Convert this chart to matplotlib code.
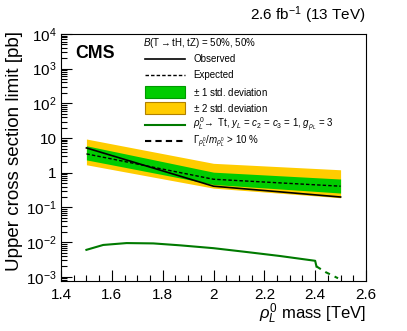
import numpy as np
import matplotlib
matplotlib.use("Agg")
import matplotlib.pyplot as plt
from matplotlib.lines import Line2D
from matplotlib.patches import Rectangle
from matplotlib.ticker import MultipleLocator, LogLocator, NullFormatter

plt.rcParams['font.family'] = ['Liberation Sans', 'DejaVu Sans']
plt.rcParams['mathtext.fontset'] = 'custom'
plt.rcParams['mathtext.rm'] = 'Liberation Sans'
plt.rcParams['mathtext.it'] = 'Liberation Sans:italic'
plt.rcParams['mathtext.bf'] = 'Liberation Sans:bold'

# limits at the three mass points (pb)
mass = [1.5, 2.0, 2.5]
observed = [5.2, 0.41, 0.20]
expected = [3.5, 0.65, 0.41]
sig1_lo = [2.35, 0.46, 0.26]
sig1_hi = [6.0, 1.04, 0.66]
sig2_lo = [1.7, 0.36, 0.19]
sig2_hi = [9.4, 1.87, 1.22]

# theory cross section
th_mass = [1.5, 1.566, 1.658, 1.763, 1.868, 2.0, 2.13, 2.26, 2.40, 2.405]
th_xs = [0.0060, 0.0083, 0.0094, 0.0092, 0.0081, 0.0067, 0.0052, 0.0040, 0.0029, 0.0020]
# region where width/mass > 10 %
wide_mass = [2.405, 2.44, 2.49]
wide_xs = [0.0020, 0.00138, 0.00091]

GREEN = '#00cc00'
YELLOW = '#ffcc00'
DKGREEN = '#007a00'

W, H = 407, 331
fig = plt.figure(figsize=(W / 100, H / 100), dpi=100)
ax = fig.add_axes([61 / W, (H - 281) / H, 305 / W, 247 / H])

ax.fill_between(mass, sig2_lo, sig2_hi, color=YELLOW, lw=0)
ax.fill_between(mass, sig1_lo, sig1_hi, color=GREEN, lw=0)
ax.plot(mass, expected, color='black', lw=1.0, dashes=(2.5, 1.5))
ax.plot(mass, observed, color='black', lw=1.2)
ax.plot(th_mass, th_xs, color=DKGREEN, lw=1.5)
ax.plot(wide_mass, wide_xs, color=DKGREEN, lw=1.5, dashes=(2.5, 2.5))

ax.set_yscale('log')
ax.set_xlim(1.4, 2.6)
ax.xaxis.set_minor_locator(MultipleLocator(0.05))
ax.set_xticks([1.4, 1.6, 1.8, 2.0, 2.2, 2.4, 2.6])
ax.set_xticklabels(['1.4', '1.6', '1.8', '2', '2.2', '2.4', '2.6'])
ax.yaxis.set_minor_locator(LogLocator(base=10, subs=np.arange(2, 10), numticks=20))
ax.yaxis.set_minor_formatter(NullFormatter())
ax.set_yticks([1e-3, 1e-2, 1e-1, 1, 10, 1e2, 1e3, 1e4])
ax.set_yticklabels([r'$10^{-3}$', r'$10^{-2}$', r'$10^{-1}$', '1', '10',
                    r'$10^{2}$', r'$10^{3}$', r'$10^{4}$'])
ax.set_ylim(10 ** -3.12, 10 ** 4.0)
ax.tick_params(which='both', direction='in', labelsize=11)
ax.tick_params(which='major', length=8, width=0.8)
ax.tick_params(which='minor', length=4, width=0.8)
ax.tick_params(axis='x', pad=5)
ax.tick_params(axis='y', pad=3)

fig.text(366 / W, 1 - 314 / H, r'$\rho^0_L$ mass [TeV]', ha='right', va='center', fontsize=12)
fig.text(15 / W, 1 - 31 / H, 'Upper cross section limit [pb]', rotation=90,
         ha='center', va='top', fontsize=13.5)
fig.text(366 / W, 1 - 15 / H, r'2.6 fb$^{-1}$ (13 TeV)', ha='right', va='center', fontsize=11)

fig.text(75 / W, 1 - 54 / H, 'CMS', fontsize=12.8, fontweight='bold', ha='left', va='center')
fig.text(143 / W, 1 - 43 / H, r'$\mathit{B}$(T$\rightarrow$tH, tZ) = 50%, 50%',
         fontsize=7, ha='left', va='center')

# legend rows, drawn by hand to match the layout
row_y = [59, 75.3, 91.7, 108.3, 124.7, 140.7]
labels = [
    'Observed',
    'Expected',
    r'$\pm$ 1 std. deviation',
    r'$\pm$ 2 std. deviation',
    r'$\rho^0_L\!\rightarrow$ Tt, $y_L$ = $c_2$ = $c_3$ = 1, $g_{\rho_L}$ = 3',
    r'$\Gamma_{\rho^0_L}/m_{\rho^0_L}$ > 10 %',
]
styles = [
    dict(kind='line', color='black', lw=1.2, dashes=None),
    dict(kind='line', color='black', lw=1.0, dashes=(2.5, 1.5)),
    dict(kind='box', face=GREEN, edge='#009900'),
    dict(kind='box', face=YELLOW, edge='#b08000'),
    dict(kind='line', color=DKGREEN, lw=1.5, dashes=None),
    dict(kind='line', color='black', lw=1.5, dashes=(3, 2)),
]
x0, x1, xt = 145, 185, 193
for y, lab, st in zip(row_y, labels, styles):
    yf = 1 - y / H
    if st['kind'] == 'line':
        ln = Line2D([x0 / W, x1 / W], [yf, yf], color=st['color'], lw=st['lw'],
                    transform=fig.transFigure)
        if st['dashes']:
            ln.set_dashes(st['dashes'])
        fig.add_artist(ln)
    else:
        fig.add_artist(Rectangle((x0 / W, yf - 5.8 / H), (x1 - x0) / W, 11.6 / H,
                                 facecolor=st['face'], edgecolor=st['edge'], lw=0.8,
                                 transform=fig.transFigure))
    fig.text(xt / W, yf, lab, fontsize=7, ha='left', va='center')

fig.savefig('out.png', dpi=100)
